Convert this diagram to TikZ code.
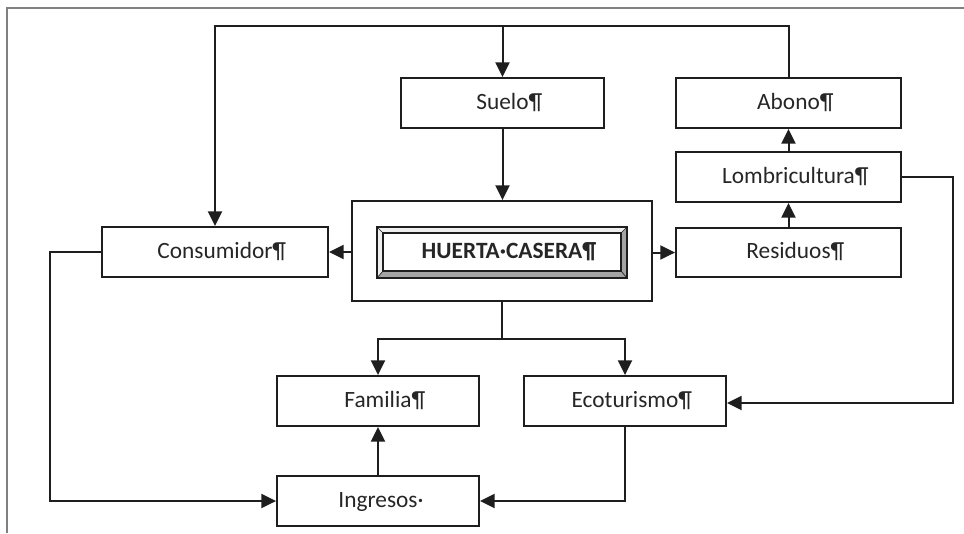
\documentclass[tikz,border=0pt]{standalone}
\usepackage{fontspec}
\setmainfont{Carlito}
\usetikzlibrary{arrows.meta}
\definecolor{ink}{HTML}{1E1E1E}
\definecolor{txt}{HTML}{262626}
\definecolor{bevlight}{HTML}{EFEFEF}
\definecolor{bevdark}{HTML}{A4A4A4}
\begin{document}
\begin{tikzpicture}[x=0.75pt,y=-0.75pt,
  sz/.style 2 args={minimum width={#1*0.75pt}, minimum height={#2*0.75pt}},
  box/.style={draw=ink, line width=1.4pt, rectangle, inner sep=0pt, text=txt,
    font=\fontsize{17.5}{20}\selectfont, text height=12pt, text depth=3pt},
  link/.style={draw=ink, line width=1.5pt},
  arr/.style={link, -{Triangle[width=10.5pt,length=11pt]}}]
\useasboundingbox (0,0) rectangle (964,533);
\fill[white] (0,0) rectangle (964,533);
% page frame
\draw[gray, line width=0.9pt] (7,533) -- (7,8) -- (964,8);

% boxes
\node[box, sz={203}{50}] (suelo) at (502.5,103) {Suelo\rlap{¶}};
\node[box, sz={225}{50}] (abono) at (788.5,103) {Abono\rlap{¶}};
\node[box, sz={225}{50}] (lomb) at (788.5,177) {Lombricultura\rlap{¶}};
\node[box, sz={225}{49}] (resid) at (788.5,252.5) {Residuos\rlap{¶}};
\node[box, sz={226}{50}] (consumidor) at (215,252) {Consumidor\rlap{¶}};
\node[box, sz={202}{50}] (familia) at (378,401) {Familia\rlap{¶}};
\node[box, sz={202}{50}] (ecotur) at (625,401) {Ecoturismo\rlap{¶}};
\node[box, sz={202}{50}] (ingresos) at (378,501) {Ingresos\rlap{·}};

% central frame with bevelled title plate
\node[box, sz={300}{100}] (marco) at (502,251) {};
\fill[bevlight] (377,227) -- (627,227) -- (621,233) -- (383,233) -- cycle;
\fill[bevlight] (377,227) -- (383,233) -- (383,271) -- (377,278) -- cycle;
\fill[bevdark] (627,227) -- (627,278) -- (621,271) -- (621,233) -- cycle;
\fill[bevdark] (377,278) -- (627,278) -- (621,271) -- (383,271) -- cycle;
\draw[ink, line width=0.8pt] (377,227) rectangle (627,278);
\draw[ink, line width=0.8pt] (383,233) rectangle (621,271);
\draw[ink, line width=0.5pt] (377,227) -- (383,233) (627,227) -- (621,233)
  (627,278) -- (621,271) (377,278) -- (383,271);
\node[box, draw=none, sz={238}{38}, font=\fontsize{17.5}{20}\selectfont\bfseries]
  (huerta) at (502,252.5) {HUERTA·CASERA\rlap{¶}};

% connectors
\coordinate (top) at (0,26);
\coordinate (split) at (502,339);
\coordinate (rr) at (953,0);
\coordinate (ll) at (50,0);

\draw[arr] (abono.north) |- (consumidor.north |- top) -- (consumidor.north);
\draw[arr] (suelo.north |- top) -- (suelo.north);
\draw[arr] (suelo.south) -- (marco.north -| suelo.south);
\draw[arr] (marco.west |- consumidor) -- (consumidor.east);
\draw[arr] (marco.east |- resid) -- (resid.west);
\draw[arr] (resid.north) -- (lomb.south);
\draw[arr] (lomb.north) -- (abono.south);
\draw[arr] (lomb.east) -- (lomb.east -| rr) |- ([yshift=-1.5pt]ecotur.east);
\draw[link] (marco.south -| split) -- (split);
\draw[arr] (split) -| (familia.north);
\draw[arr] (split) -| (ecotur.north);
\draw[arr] (ingresos.north) -- (familia.south);
\draw[arr] (ecotur.south) |- (ingresos.east);
\draw[arr] (consumidor.west) -- (consumidor.west -| ll) |- (ingresos.west);
\end{tikzpicture}
\end{document}
